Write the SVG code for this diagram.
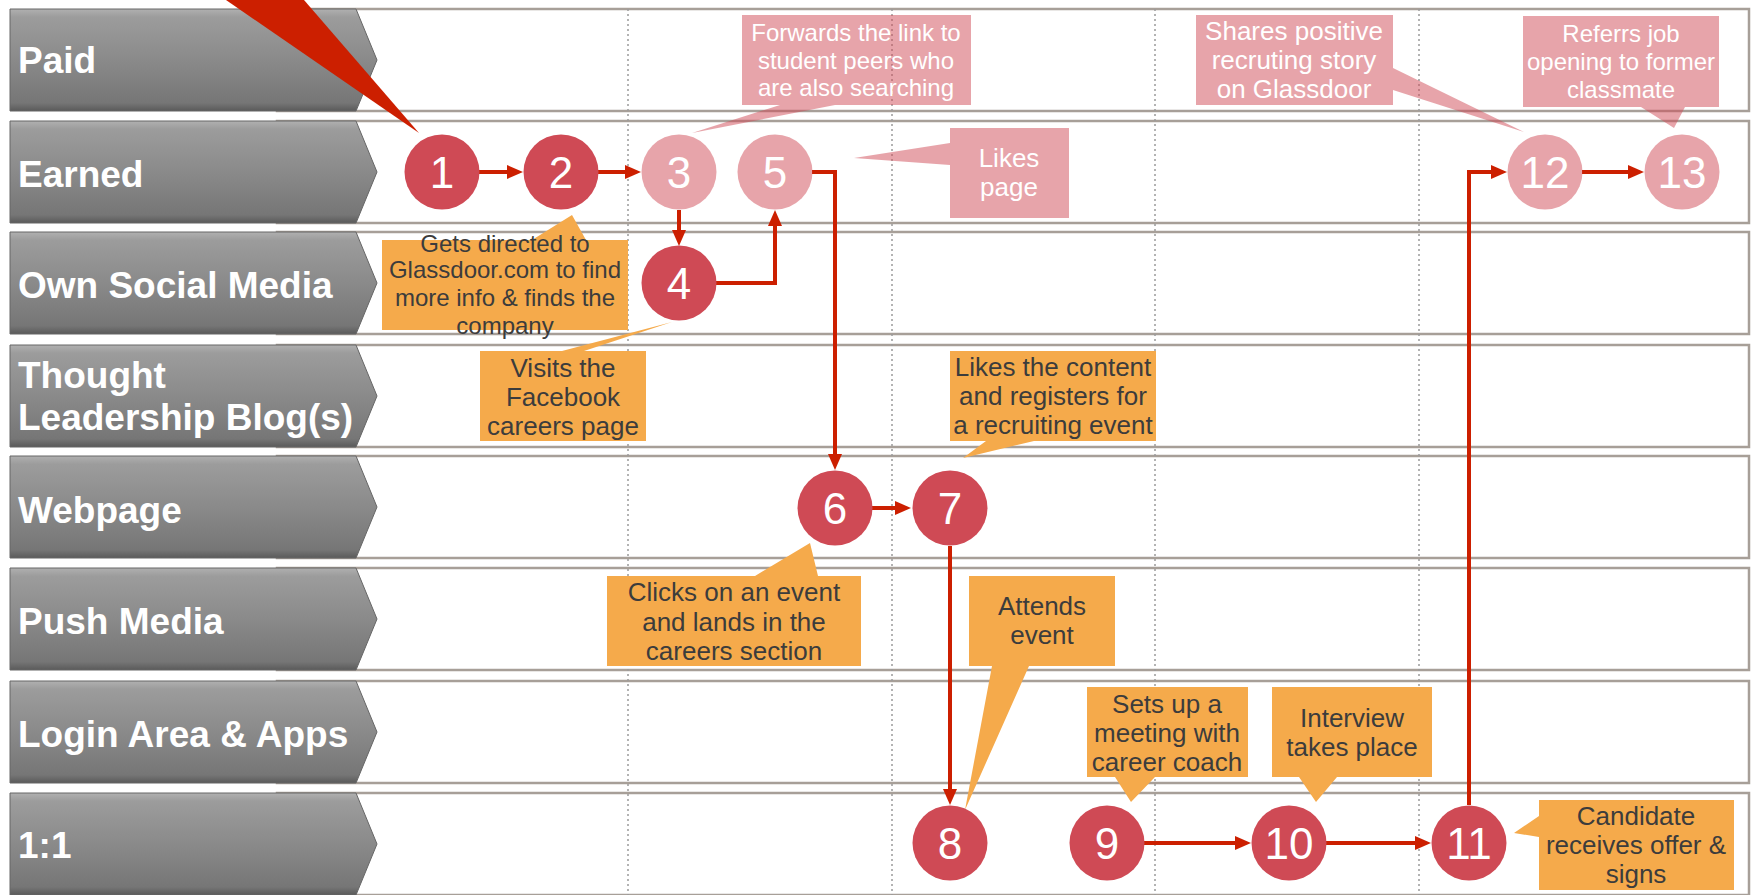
<svg xmlns="http://www.w3.org/2000/svg" width="1752" height="895" viewBox="0 0 1752 895">
<style>
.band{fill:#fff;stroke:#a79f98;stroke-width:2.5}
.grid{stroke:#9a9a9a;stroke-width:1.5;stroke-dasharray:2 3}
.hdr{fill:url(#hg);stroke:#666;stroke-width:1}
.htxt{font-family:"Liberation Sans",Arial,sans-serif;font-weight:bold;font-size:37px;fill:#fff}
.dark{fill:#cf4a55}
.light{fill:#cf4a55;fill-opacity:.5}
.num{font-family:"Liberation Sans",Arial,sans-serif;font-size:44px;fill:#fff;text-anchor:middle}
.or{fill:#f5aa4b}
.pk{fill:#cf4a55;fill-opacity:.5}
.ot{font-family:"Liberation Sans",Arial,sans-serif;font-size:26px;fill:#3c3c3c;text-anchor:middle}
.pt{font-family:"Liberation Sans",Arial,sans-serif;font-size:26px;fill:#fff;text-anchor:middle}
.s24{font-size:24px}
.con{fill:none;stroke:#cc1f00;stroke-width:4;marker-end:url(#ah)}
</style>
<defs>
<linearGradient id="hg" x1="0" y1="0" x2="0" y2="1">
<stop offset="0" stop-color="#b0b0b0"/>
<stop offset="0.08" stop-color="#9c9c9c"/>
<stop offset="0.5" stop-color="#8a8a8a"/>
<stop offset="0.92" stop-color="#767676"/>
<stop offset="1" stop-color="#5a5a5a"/>
</linearGradient>
<marker id="ah" markerUnits="userSpaceOnUse" markerWidth="16" markerHeight="14" refX="8" refY="7" orient="auto">
<path d="M0,0 L16,7 L0,14 Z" fill="#cc1f00"/>
</marker>
</defs>

<g id="lanes">
<rect class="band" x="277" y="9" width="1472" height="102"/>
<rect class="band" x="277" y="121" width="1472" height="102"/>
<rect class="band" x="277" y="232" width="1472" height="102"/>
<rect class="band" x="277" y="345" width="1472" height="102"/>
<rect class="band" x="277" y="456" width="1472" height="102"/>
<rect class="band" x="277" y="568" width="1472" height="102"/>
<rect class="band" x="277" y="681" width="1472" height="102"/>
<rect class="band" x="277" y="793" width="1472" height="102"/>
</g>

<g id="gridlines">
<line class="grid" x1="628" y1="9" x2="628" y2="895"/>
<line class="grid" x1="892" y1="9" x2="892" y2="895"/>
<line class="grid" x1="1155" y1="9" x2="1155" y2="895"/>
<line class="grid" x1="1419" y1="9" x2="1419" y2="895"/>
</g>

<g id="header-paid"><polygon class="hdr" points="10,9 356,9 377,60 356,111 10,111"/><text class="htxt" x="18" y="73">Paid</text></g>
<g id="header-earned"><polygon class="hdr" points="10,121 356,121 377,172 356,223 10,223"/><text class="htxt" x="18" y="187">Earned</text></g>
<g id="header-own"><polygon class="hdr" points="10,232 356,232 377,283 356,334 10,334"/><text class="htxt" x="18" y="298">Own Social Media</text></g>
<g id="header-thought"><polygon class="hdr" points="10,345 356,345 377,396 356,447 10,447"/><text class="htxt" x="18" y="388">Thought</text><text class="htxt" x="18" y="430">Leadership Blog(s)</text></g>
<g id="header-webpage"><polygon class="hdr" points="10,456 356,456 377,507 356,558 10,558"/><text class="htxt" x="18" y="523">Webpage</text></g>
<g id="header-push"><polygon class="hdr" points="10,568 356,568 377,619 356,670 10,670"/><text class="htxt" x="18" y="634">Push Media</text></g>
<g id="header-login"><polygon class="hdr" points="10,681 356,681 377,732 356,783 10,783"/><text class="htxt" x="18" y="747">Login Area &amp; Apps</text></g>
<g id="header-11"><polygon class="hdr" points="10,793 356,793 377,844 356,895 10,895"/><text class="htxt" x="18" y="858">1:1</text></g>

<g id="callout-glassdoor"><path class="or" d="M382,240 H532 L572,215 L586,240 H628 V330 H382 Z"/>
<text class="ot s24" x="505" y="252">Gets directed to</text><text class="ot s24" x="505" y="278">Glassdoor.com to find</text><text class="ot s24" x="505" y="306">more info &amp; finds the</text><text class="ot s24" x="505" y="334">company</text></g>

<g id="callout-visits"><path class="or" d="M480,351 H562 L672,322 L584,351 H646 V441 H480 Z"/>
<text class="ot" x="563" y="377">Visits the</text><text class="ot" x="563" y="406">Facebook</text><text class="ot" x="563" y="435">careers page</text></g>

<g id="callout-forwards"><path class="pk" d="M742,15 H971 V105 H835 L692,133 L780,105 H742 Z"/>
<text class="pt s24" x="856" y="41">Forwards the link to</text><text class="pt s24" x="856" y="69">student peers who</text><text class="pt s24" x="856" y="96">are also searching</text></g>

<g id="callout-likes"><path class="pk" d="M950,128 H1069 V218 H950 V165 L854,158 L950,143 Z"/>
<text class="pt" x="1009" y="167">Likes</text><text class="pt" x="1009" y="196">page</text></g>

<g id="callout-content"><path class="or" d="M950,351 H1156 V441 H1034 L963,458 L986,441 H950 Z"/>
<text class="ot" x="1053" y="376">Likes the content</text><text class="ot" x="1053" y="405">and registers for</text><text class="ot" x="1053" y="434">a recruiting event</text></g>

<g id="callout-clicks"><path class="or" d="M607,576 H755 L810,543 L818,576 H861 V666 H607 Z"/>
<text class="ot" x="734" y="601">Clicks on an event</text><text class="ot" x="734" y="631">and lands in the</text><text class="ot" x="734" y="660">careers section</text></g>

<g id="callout-attends"><path class="or" d="M969,576 H1115 V666 H1029 L965,810 L992,666 H969 Z"/>
<text class="ot" x="1042" y="615">Attends</text><text class="ot" x="1042" y="644">event</text></g>

<g id="callout-coach"><path class="or" d="M1087,687 H1248 V777 H1155 L1131,802 L1115,777 H1087 Z"/>
<text class="ot" x="1167" y="713">Sets up a</text><text class="ot" x="1167" y="742">meeting with</text><text class="ot" x="1167" y="771">career coach</text></g>

<g id="callout-interview"><path class="or" d="M1272,687 H1432 V777 H1337 L1316,802 L1299,777 H1272 Z"/>
<text class="ot" x="1352" y="727">Interview</text><text class="ot" x="1352" y="756">takes place</text></g>

<g id="callout-offer"><path class="or" d="M1539,800 H1734 V890 H1539 V837 L1514,833 L1539,816 Z"/>
<text class="ot" x="1636" y="825">Candidate</text><text class="ot" x="1636" y="854">receives offer &amp;</text><text class="ot" x="1636" y="883">signs</text></g>

<g id="callout-shares"><path class="pk" d="M1196,15 H1393 V68 L1524,132 L1393,90 V105 H1196 Z"/>
<text class="pt" x="1294" y="40">Shares positive</text><text class="pt" x="1294" y="69">recruting story</text><text class="pt" x="1294" y="98">on Glassdoor</text></g>

<g id="callout-referrs"><path class="pk" d="M1523,16 H1719 V107 H1685 L1674,128 L1641,107 H1523 Z"/>
<text class="pt s24" x="1621" y="42">Referrs job</text><text class="pt s24" x="1621" y="70">opening to former</text><text class="pt s24" x="1621" y="98">classmate</text></g>

<g id="connectors">
<path class="con" d="M479,172 H515"/>
<path class="con" d="M598,172 H633"/>
<path class="con" d="M679,210 V238"/>
<path class="con" d="M716,283 H775 V218"/>
<path class="con" d="M812,172 H835 V462"/>
<path class="con" d="M872,508 H903"/>
<path class="con" d="M950,546 V797"/>
<path class="con" d="M1144,843 H1243"/>
<path class="con" d="M1326,843 H1423"/>
<path class="con" d="M1469,805 V172 H1499"/>
<path class="con" d="M1582,172 H1636"/>
</g>

<g id="step1"><circle class="dark" cx="442" cy="172" r="37.5"/><text class="num" x="442" y="188">1</text></g>
<g id="step2"><circle class="dark" cx="561" cy="172" r="37.5"/><text class="num" x="561" y="188">2</text></g>
<g id="step3"><circle class="light" cx="679" cy="172" r="37.5"/><text class="num" x="679" y="188">3</text></g>
<g id="step4"><circle class="dark" cx="679" cy="283" r="37.5"/><text class="num" x="679" y="299">4</text></g>
<g id="step5"><circle class="light" cx="775" cy="172" r="37.5"/><text class="num" x="775" y="188">5</text></g>
<g id="step6"><circle class="dark" cx="835" cy="508" r="37.5"/><text class="num" x="835" y="524">6</text></g>
<g id="step7"><circle class="dark" cx="950" cy="508" r="37.5"/><text class="num" x="950" y="524">7</text></g>
<g id="step8"><circle class="dark" cx="950" cy="843" r="37.5"/><text class="num" x="950" y="859">8</text></g>
<g id="step9"><circle class="dark" cx="1107" cy="843" r="37.5"/><text class="num" x="1107" y="859">9</text></g>
<g id="step10"><circle class="dark" cx="1289" cy="843" r="37.5"/><text class="num" x="1289" y="859">10</text></g>
<g id="step11"><circle class="dark" cx="1469" cy="843" r="37.5"/><text class="num" x="1469" y="859">11</text></g>
<g id="step12"><circle class="light" cx="1545" cy="172" r="37.5"/><text class="num" x="1545" y="188">12</text></g>
<g id="step13"><circle class="light" cx="1682" cy="172" r="37.5"/><text class="num" x="1682" y="188">13</text></g>

<polygon id="pointer-wedge" points="226,0 304,0 419,133" fill="#cc1f00"/>
</svg>
